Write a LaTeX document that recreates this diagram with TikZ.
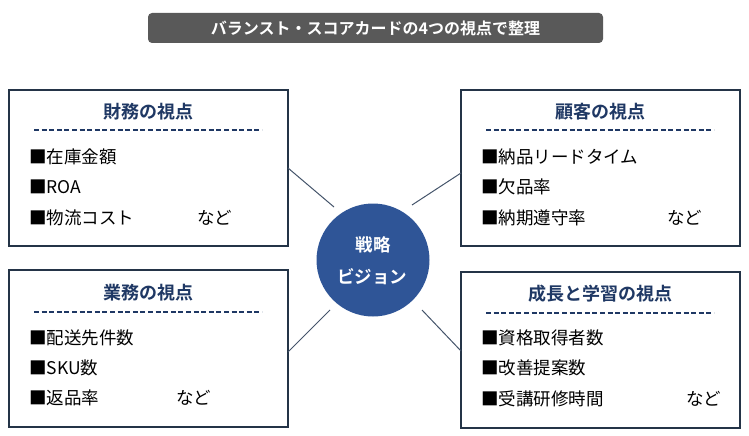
\documentclass[tikz,border=0pt]{standalone}
\usepackage{fontspec}
\newfontfamily\jp{Noto Sans CJK JP}[BoldFont={Noto Sans CJK JP Bold}]
\definecolor{titlegray}{HTML}{595959}
\definecolor{navy}{HTML}{1F3864}
\definecolor{boxline}{HTML}{243447}
\definecolor{conn}{HTML}{44546A}
\definecolor{circfill}{HTML}{2F5597}
\begin{document}
\begin{tikzpicture}[x=1pt,y=-1pt,
  panel/.style={draw=boxline,line width=1.1pt,fill=white},
  head/.style={font=\jp\bfseries\fontsize{18}{20}\selectfont,text=navy,anchor=center,inner sep=0},
  sep/.style={draw=navy,line width=1.5pt,dash pattern=on 5pt off 2.6pt},
  item/.style={font=\jp\fontsize{17.5}{20}\selectfont,anchor=west,inner sep=0},
  ctext/.style={font=\jp\bfseries\fontsize{17.5}{20}\selectfont,text=white,inner sep=0},
  conline/.style={draw=conn,line width=1pt}]
\useasboundingbox (0,0) rectangle (749,436);
% title
\node[fill=titlegray,rounded corners=4pt,minimum width=455pt,minimum height=30pt,inner sep=0,
  font=\jp\bfseries\fontsize{16}{18}\selectfont,text=white] (title) at (375.5,28) {バランスト・スコアカードの4つの視点で整理};
% panels
\node[panel,minimum width=279pt,minimum height=156pt,inner sep=0] (fin) at (148.5,168) {};
\node[panel,minimum width=279pt,minimum height=156pt,inner sep=0] (cus) at (600.5,168) {};
\node[panel,minimum width=279pt,minimum height=157pt,inner sep=0] (ops) at (148.5,348.5) {};
\node[panel,minimum width=279pt,minimum height=156pt,inner sep=0] (grw) at (600.5,350) {};
% circle
\node[circle,fill=circfill,minimum size=113pt,inner sep=0] (vis) at (373,260) {};
\node[ctext] (v1) at (373,245) {戦略};
\node[ctext] (v2) at (372,277) {ビジョン};
% connectors
\coordinate (c1) at (334,207); \coordinate (e1) at (288,168);
\coordinate (c2) at (412,205); \coordinate (e2) at (461,173);
\coordinate (c3) at (330,310); \coordinate (e3) at (288,352);
\coordinate (c4) at (422,310); \coordinate (e4) at (461,351);
\draw[conline] (c1) -- (e1);
\draw[conline] (c2) -- (e2);
\draw[conline] (c3) -- (e3);
\draw[conline] (c4) -- (e4);
% financial
\node[head] (finh) at (148,112) {財務の視点};
\draw[sep] (34,130) -- (262,130);
\node[item] (f1) at (29,157) {■在庫金額};
\node[item] (f2) at (29,187) {■ROA};
\node[item] (f3) at (29,218) {■物流コスト};
\node[item] (f4) at (197,218) {など};
% customer
\node[head] (cush) at (600,112) {顧客の視点};
\draw[sep] (486,130) -- (714,130);
\node[item] (k1) at (481,157) {■納品リードタイム};
\node[item] (k2) at (481,187) {■欠品率};
\node[item] (k3) at (481,218) {■納期遵守率};
\node[item] (k4) at (667,218) {など};
% operations
\node[head] (opsh) at (148,293) {業務の視点};
\draw[sep] (34,312) -- (262,312);
\node[item] (o1) at (29,338) {■配送先件数};
\node[item] (o2) at (29,368) {■SKU数};
\node[item] (o3) at (29,398) {■返品率};
\node[item] (o4) at (176,398) {など};
% growth
\node[head] (grwh) at (600,294) {成長と学習の視点};
\draw[sep] (486,313) -- (714,313);
\node[item] (g1) at (481,338) {■資格取得者数};
\node[item] (g2) at (481,368) {■改善提案数};
\node[item] (g3) at (481,399) {■受講研修時間};
\node[item] (g4) at (686,399) {など};
\end{tikzpicture}
\end{document}
